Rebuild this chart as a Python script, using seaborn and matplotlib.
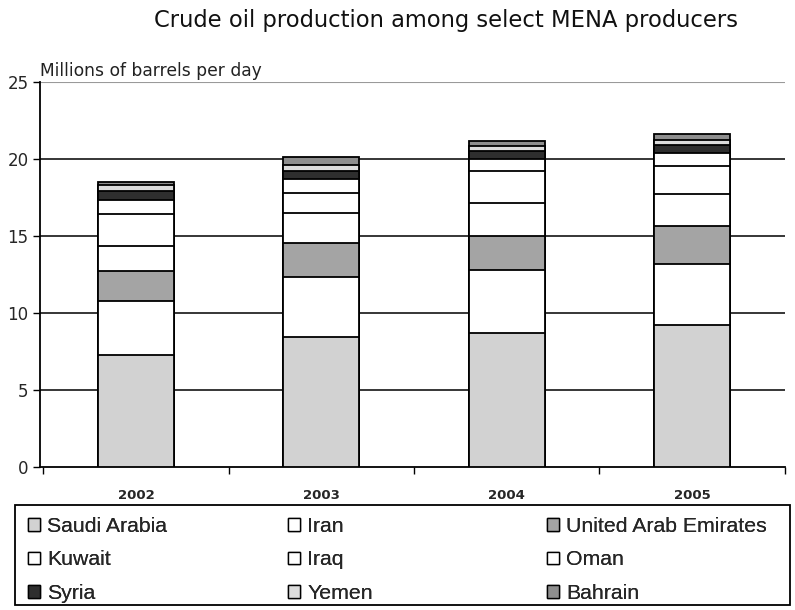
import matplotlib
matplotlib.use("Agg")
import matplotlib.pyplot as plt
from matplotlib.patches import Patch, Rectangle
import numpy as np
import pandas as pd
import seaborn as sns

years = ["2002", "2003", "2004", "2005"]
countries = ["Saudi Arabia", "Iran", "United Arab Emirates", "Kuwait", "Iraq",
             "Oman", "Syria", "Yemen", "Bahrain"]
saudi = [7.3, 8.45, 8.7, 9.2]
iran = [3.45, 3.9, 4.1, 3.95]
uae = [1.95, 2.2, 2.2, 2.5]
kuwait = [1.65, 1.95, 2.15, 2.1]
iraq = [2.1, 1.3, 2.1, 1.8]
oman = [0.9, 0.9, 0.75, 0.85]
syria = [0.55, 0.55, 0.5, 0.5]
yemen = [0.4, 0.35, 0.35, 0.35]
bahrain = [0.2, 0.5, 0.35, 0.4]
colors = ["#d2d2d2", "#ffffff", "#a4a4a4", "#ffffff", "#ffffff",
          "#ffffff", "#2e2e2e", "#dcdcdc", "#8e8e8e"]

series = [saudi, iran, uae, kuwait, iraq, oman, syria, yemen, bahrain]
cum = np.cumsum(np.array(series), axis=0)

sns.set_style("white")
plt.rcParams["font.family"] = ["DejaVu Sans"]

fig = plt.figure(figsize=(7.95, 6.10), dpi=100)
ax = fig.add_axes([0.05, 0.2344, 0.937, 0.6312])

# draw stacked bars from top cumulative down so each segment shows
for i in range(len(countries) - 1, -1, -1):
    df = pd.DataFrame({"year": years, "value": cum[i]})
    sns.barplot(data=df, x="year", y="value", color=colors[i], saturation=1,
                width=0.41, edgecolor="black", linewidth=1.3, errorbar=None,
                ax=ax, zorder=3)

ax.set_ylim(0, 25)
ax.set_xlim(-0.52, 3.5)
ax.set_yticks([0, 5, 10, 15, 20, 25])
ax.tick_params(axis="y", labelsize=12, length=5, width=1, direction="out",
               color="black", left=True, pad=3)
ax.tick_params(axis="x", which="major", length=0, labelsize=9.5, pad=16)
ax.set_xticks([-0.5, 0.5, 1.5, 2.5, 3.5], minor=True)
ax.tick_params(axis="x", which="minor", length=5, width=1, direction="out",
               color="black", bottom=True)
for lab in ax.get_xticklabels():
    lab.set_fontweight("bold")
ax.set_xlabel("")
ax.set_ylabel("")

for y in [5, 10, 15, 20]:
    ax.axhline(y, color="black", lw=1.1, zorder=1)
ax.axhline(25, color="#9a9a9a", lw=0.8, zorder=1)

for s in ["top", "right"]:
    ax.spines[s].set_visible(False)
for s in ["left", "bottom"]:
    ax.spines[s].set_color("black")
    ax.spines[s].set_linewidth(1.3)

ax.text(0.0, 1.005, "Millions of barrels per day", transform=ax.transAxes,
        ha="left", va="bottom", fontsize=12.3, color="#222222")

fig.text(0.561, 0.967, "Crude oil production among select MENA producers",
         ha="center", va="center", fontsize=16.3, color="#111111")

handles = [Patch(facecolor=c, edgecolor="black", linewidth=1.0, label=n)
           for c, n in zip(colors, countries)]

# legend frame
fig.add_artist(Rectangle((15 / 795, 5 / 610), 775 / 795, 100 / 610,
                         transform=fig.transFigure, fill=False,
                         edgecolor="black", linewidth=1.3))

# three columns of equal width, rows reading across
col_x = [28, 288, 547]
for c in range(3):
    idx = [c, c + 3, c + 6]
    lg = fig.legend([handles[k] for k in idx], [countries[k] for k in idx],
                    loc="upper left",
                    bbox_to_anchor=(col_x[c] / 795, 1 - 517 / 610),
                    frameon=False, handlelength=0.55, handleheight=0.55,
                    handletextpad=0.35, labelspacing=0.68, borderaxespad=0,
                    borderpad=0,
                    prop={"family": "Liberation Sans", "size": 15.3})
    fig.add_artist(lg)

fig.savefig("out.png", dpi=100)
